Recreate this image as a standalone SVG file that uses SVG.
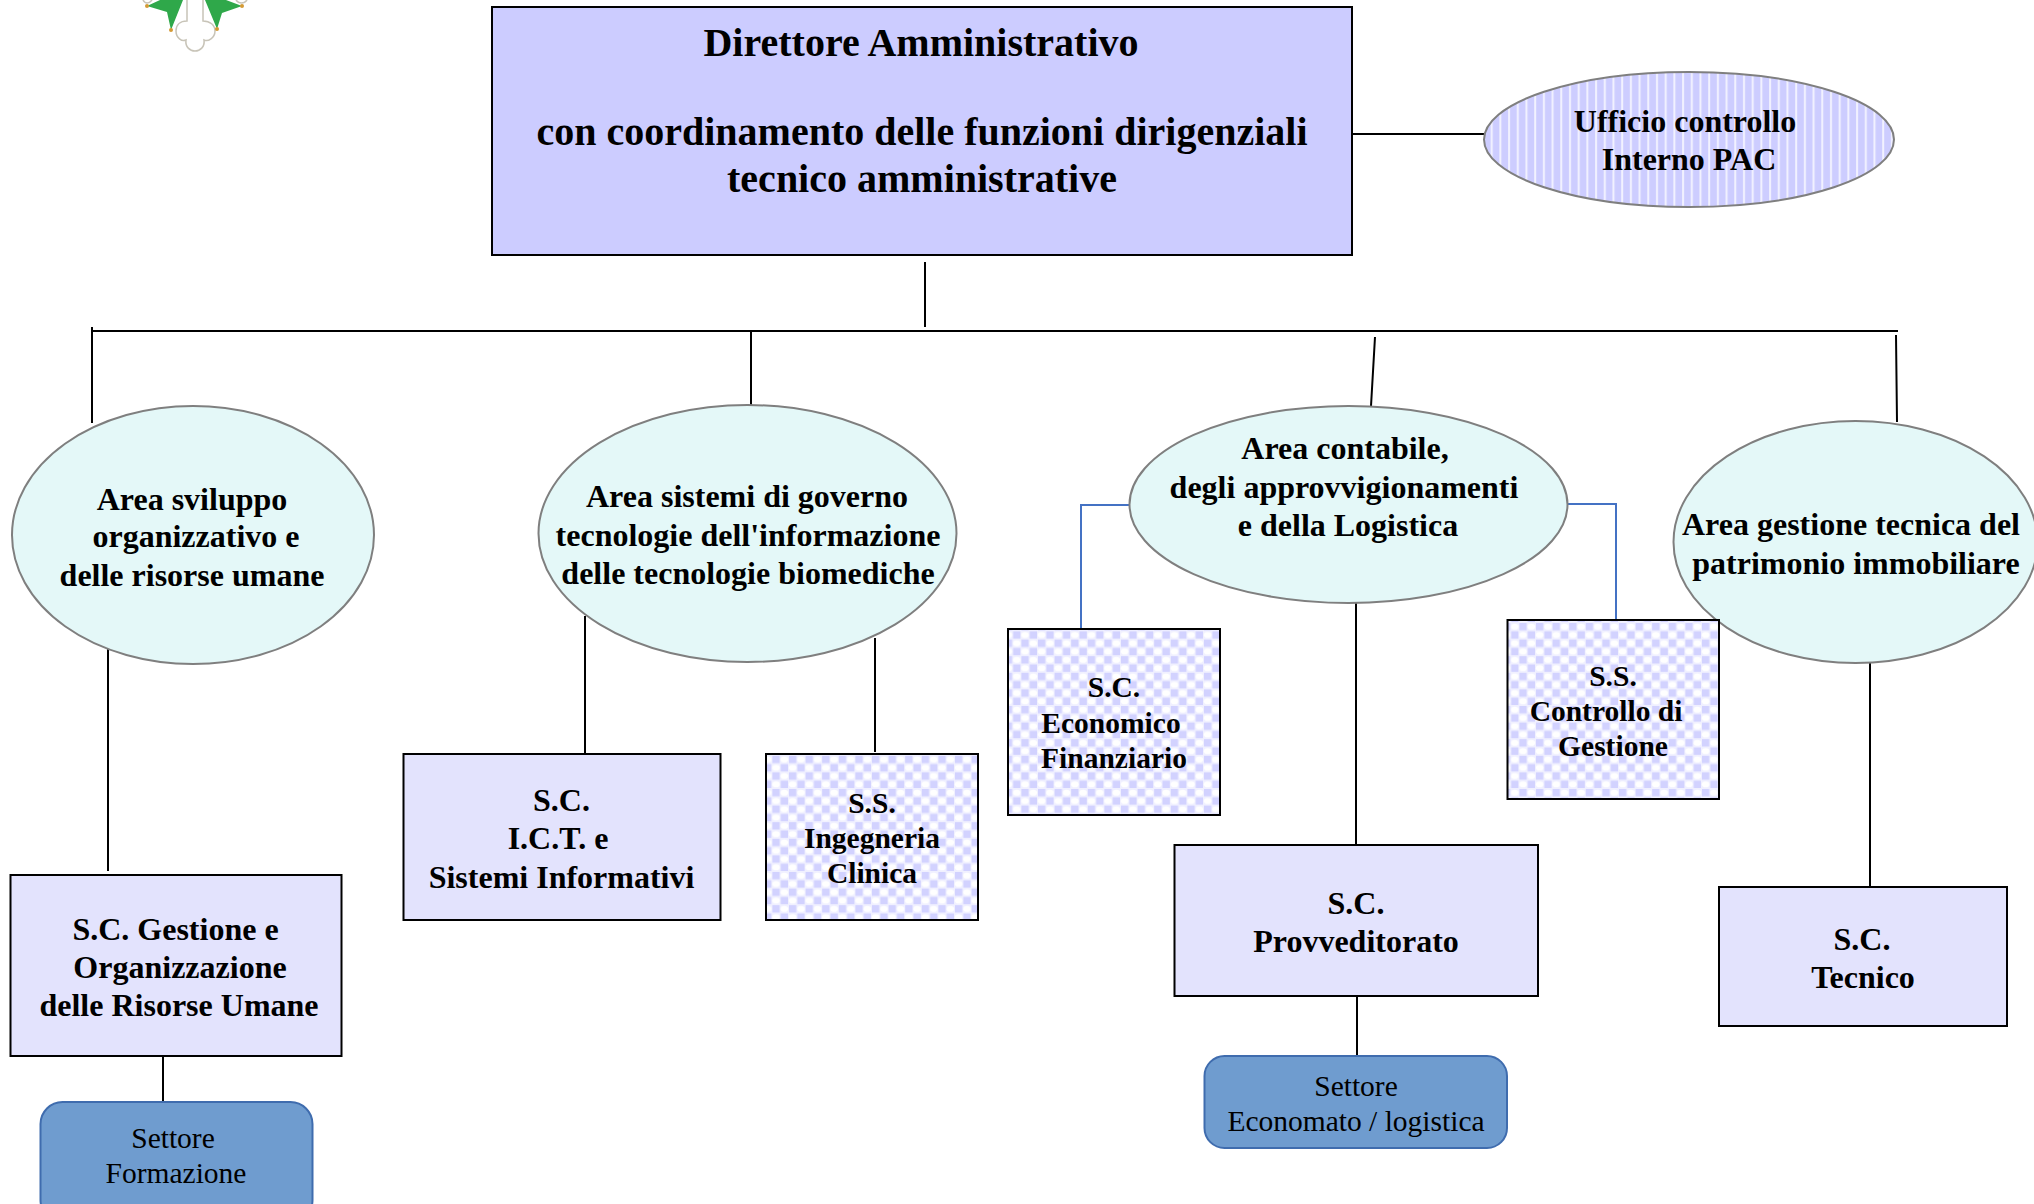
<svg xmlns="http://www.w3.org/2000/svg" width="2034" height="1204" viewBox="0 0 2034 1204">
<style>
text{font-family:"Liberation Serif","Times New Roman",serif;font-weight:bold;fill:#000;text-anchor:middle}
.t40{font-size:40px}.t31{font-size:32px}.t29{font-size:29.500px}
.n{font-weight:normal;font-size:29.500px}
.box{stroke:#000;stroke-width:2}
.pale{fill:#e3e3fd}
.ell{fill:#e4f8f8;stroke:#7f7f7f;stroke-width:2}
.set{fill:#6f9ccf;stroke:#3f6cae;stroke-width:2}
.c{stroke:#000;stroke-width:2;fill:none}
.cb{stroke:#4472c4;stroke-width:2;fill:none}
</style>
<defs>
<pattern id="stripe" width="8.700" height="10" patternUnits="userSpaceOnUse"><rect width="8.700" height="10" fill="#cdcdff"/><rect x="3" width="2" height="10" fill="#f2f2ff"/></pattern>
<pattern id="check" width="16.600" height="16.600" patternUnits="userSpaceOnUse"><rect width="16.600" height="16.600" fill="#f0f0ff"/><rect x="0.500" y="0.500" width="7.300" height="7.300" fill="#d2d2ff"/><rect x="8.800" y="8.800" width="7.300" height="7.300" fill="#d2d2ff"/><ellipse cx="12.450" cy="4.150" rx="3.800" ry="3" fill="#fff"/><ellipse cx="4.150" cy="12.450" rx="3.800" ry="3" fill="#fff"/></pattern>
</defs>
<g id="logo">
<path d="M147 6L160 0H183L171 30 167 12Z" fill="#2fa84a"/>
<path d="M205 0H226L242 6 222 13 217 29Z" fill="#2fa84a"/>
<path d="M187 0V21C180 21 176 25 176 31 176 38 182 42 186 40 185 47 190 51 195 51 200 51 205 47 204 40 208 42 215 38 215 31 215 25 210 21 203 21V0" fill="#fff" stroke="#c8c4b8" stroke-width="1.500"/>
<path d="M143 0C145 4 149 4 152 0M236 0C239 4 244 4 247 0" fill="#fff" stroke="#c8c4b8" stroke-width="1.500"/>
<g fill="#d49a35"><circle cx="171" cy="30" r="2"/><circle cx="217" cy="29" r="2"/><circle cx="147" cy="6" r="2"/><circle cx="242" cy="6" r="2"/></g>
</g>
<g id="connectors">
<path class="c" d="M925 262V327M92 331H1898M92 327V423M751 331V405M1375 337L1371 406M1896 335L1897 422M1347 134H1486M108 648V871M163 1056V1101M585 616V754M875 638V752M1356 603V845M1357 996V1056M1870 663V887"/>
<path class="cb" d="M1129 505H1081V631M1567 504H1616V620"/>
</g>
<g id="director"><rect class="box" x="492" y="7" width="860" height="248" fill="#ccccff"/>
<text class="t40" x="921" y="56">Direttore Amministrativo</text>
<text class="t40" x="922" y="145">con coordinamento delle funzioni dirigenziali</text>
<text class="t40" x="922" y="192">tecnico amministrative</text></g>
<g id="ufficio"><ellipse cx="1689" cy="139.500" rx="205" ry="67.500" fill="url(#stripe)" stroke="#7f7f7f" stroke-width="2"/>
<text class="t31" x="1685" y="132">Ufficio controllo</text>
<text class="t31" x="1689" y="170">Interno PAC</text></g>
<g id="area-sviluppo"><ellipse class="ell" cx="193" cy="535" rx="181" ry="129"/>
<text class="t31" x="192" y="510">Area sviluppo</text>
<text class="t31" x="196" y="547">organizzativo e</text>
<text class="t31" x="192" y="586">delle risorse umane</text></g>
<g id="area-sistemi"><ellipse class="ell" cx="747.500" cy="533.500" rx="209" ry="128.500"/>
<text class="t31" x="747" y="507">Area sistemi di governo</text>
<text class="t31" x="748" y="546">tecnologie dell'informazione</text>
<text class="t31" x="748" y="584">delle tecnologie biomediche</text></g>
<g id="area-contabile"><ellipse class="ell" cx="1348.500" cy="504.500" rx="219" ry="98.500"/>
<text class="t31" x="1345" y="459">Area contabile,</text>
<text class="t31" x="1344" y="498">degli approvvigionamenti</text>
<text class="t31" x="1348" y="536">e della Logistica</text></g>
<g id="area-gestione"><ellipse class="ell" cx="1855.500" cy="542" rx="182" ry="121"/>
<text class="t31" x="1851" y="535">Area gestione tecnica del</text>
<text class="t31" x="1856" y="574">patrimonio immobiliare</text></g>
<g id="sc-gestione"><rect class="box pale" x="10.500" y="875" width="331" height="181"/>
<text class="t31" x="175.500" y="940">S.C. Gestione e</text>
<text class="t31" x="180" y="978">Organizzazione</text>
<text class="t31" x="179" y="1016">delle Risorse Umane</text></g>
<g id="settore-formazione"><rect class="set" x="40.500" y="1102" width="272" height="120" rx="22"/>
<text class="n" x="173" y="1148">Settore</text>
<text class="n" x="176" y="1183">Formazione</text></g>
<g id="sc-ict"><rect class="box pale" x="403.500" y="754" width="317" height="166"/>
<text class="t31" x="561.500" y="811">S.C.</text>
<text class="t31" x="558" y="849">I.C.T. e</text>
<text class="t31" x="561.500" y="888">Sistemi Informativi</text></g>
<g id="ss-ingegneria"><rect class="box" x="766" y="754" width="212" height="166" fill="url(#check)"/>
<text class="t29" x="872" y="813">S.S.</text>
<text class="t29" x="872" y="848">Ingegneria</text>
<text class="t29" x="872" y="883">Clinica</text></g>
<g id="sc-economico"><rect class="box" x="1008" y="629" width="212" height="186" fill="url(#check)"/>
<text class="t29" x="1114" y="697">S.C.</text>
<text class="t29" x="1111" y="733">Economico</text>
<text class="t29" x="1114" y="768">Finanziario</text></g>
<g id="ss-controllo"><rect class="box" x="1507.500" y="620" width="211.500" height="179" fill="url(#check)"/>
<text class="t29" x="1613" y="686">S.S.</text>
<text class="t29" x="1606" y="721">Controllo di</text>
<text class="t29" x="1613" y="756">Gestione</text></g>
<g id="sc-provveditorato"><rect class="box pale" x="1174.500" y="845" width="363.500" height="151"/>
<text class="t31" x="1356" y="914">S.C.</text>
<text class="t31" x="1356" y="952">Provveditorato</text></g>
<g id="settore-economato"><rect class="set" x="1204.500" y="1056" width="302.500" height="92" rx="20"/>
<text class="n" x="1356" y="1096">Settore</text>
<text class="n" x="1356" y="1131">Economato / logistica</text></g>
<g id="sc-tecnico"><rect class="box pale" x="1719" y="887" width="288" height="139"/>
<text class="t31" x="1862" y="950">S.C.</text>
<text class="t31" x="1863" y="988">Tecnico</text></g>
</svg>
